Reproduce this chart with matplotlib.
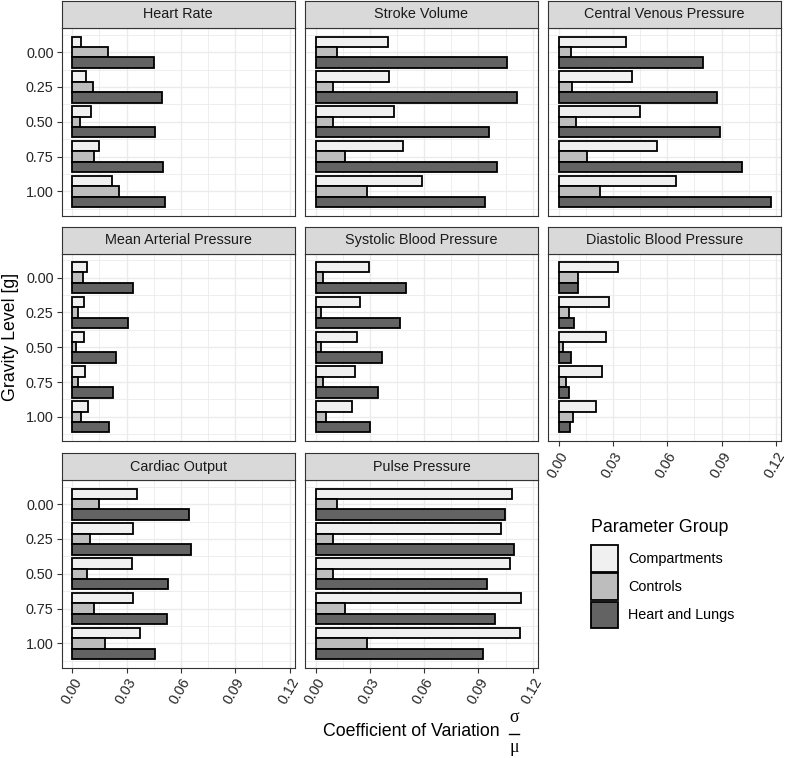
import matplotlib
matplotlib.use('Agg')
import matplotlib.pyplot as plt
from matplotlib.patches import Rectangle
from matplotlib.lines import Line2D
import numpy as np

W, H = 792, 758
plt.rcParams['font.family'] = ['Liberation Sans', 'DejaVu Sans']

# ---------------- data ----------------
parameters = ['Heart Rate', 'Stroke Volume', 'Central Venous Pressure',
              'Mean Arterial Pressure', 'Systolic Blood Pressure',
              'Diastolic Blood Pressure', 'Cardiac Output', 'Pulse Pressure']
gravity_levels = [0.00, 0.25, 0.50, 0.75, 1.00]
gravity_labels = ['0.00', '0.25', '0.50', '0.75', '1.00']
groups = ['Compartments', 'Controls', 'Heart and Lungs']
group_colors = ['#F0F0F0', '#BDBDBD', '#636363']
x_ticks = [0.00, 0.03, 0.06, 0.09, 0.12]
x_tick_labels = ['0.00', '0.03', '0.06', '0.09', '0.12']

cv_compartments = [
    [0.0050, 0.0077, 0.0106, 0.0150, 0.0220],
    [0.0400, 0.0407, 0.0433, 0.0481, 0.0589],
    [0.0374, 0.0406, 0.0451, 0.0543, 0.0651],
    [0.0079, 0.0062, 0.0064, 0.0068, 0.0084],
    [0.0297, 0.0246, 0.0228, 0.0217, 0.0204],
    [0.0328, 0.0281, 0.0262, 0.0240, 0.0204],
    [0.0358, 0.0336, 0.0328, 0.0334, 0.0376],
    [0.1088, 0.1022, 0.1072, 0.1136, 0.1130],
]
cv_controls = [
    [0.0195, 0.0116, 0.0042, 0.0121, 0.0257],
    [0.0121, 0.0099, 0.0095, 0.0165, 0.0284],
    [0.0070, 0.0075, 0.0095, 0.0156, 0.0229],
    [0.0059, 0.0033, 0.0022, 0.0031, 0.0048],
    [0.0044, 0.0031, 0.0028, 0.0042, 0.0059],
    [0.0105, 0.0059, 0.0024, 0.0042, 0.0079],
    [0.0145, 0.0097, 0.0081, 0.0119, 0.0180],
    [0.0121, 0.0095, 0.0094, 0.0161, 0.0283],
]
cv_heart_lungs = [
    [0.0453, 0.0497, 0.0455, 0.0501, 0.0510],
    [0.1057, 0.1112, 0.0958, 0.1002, 0.0939],
    [0.0796, 0.0877, 0.0892, 0.1015, 0.1171],
    [0.0334, 0.0306, 0.0239, 0.0224, 0.0200],
    [0.0499, 0.0468, 0.0365, 0.0343, 0.0299],
    [0.0108, 0.0086, 0.0066, 0.0059, 0.0061],
    [0.0646, 0.0653, 0.0530, 0.0523, 0.0457],
    [0.1046, 0.1097, 0.0950, 0.0993, 0.0927],
]
series = [cv_compartments, cv_controls, cv_heart_lungs]

# ---------------- layout ----------------
fig = plt.figure(figsize=(W / 100, H / 100), dpi=100)
fig.patch.set_facecolor('white')

def rect(x, y, w, h):
    return [x / W, 1 - (y + h) / H, w / W, h / H]

def fpt(x, y):
    return (x / W, 1 - y / H)

col_left = [61.7, 304.9, 548.0]
panel_w = 233.2
row_top = [28.0, 253.5, 480.0]
panel_h = 187.5
strip_h = 27.0

dark = '#333333'
label_c = '#262626'
grid_c = '#EBEBEB'
small_fs = 10.4
title_fs = 12.8

group_w = 0.9 * 0.25
bar_h = group_w / 3
ylo = min(gravity_levels) - group_w / 2
yhi = max(gravity_levels) + group_w / 2
yexp = 0.05 * (yhi - ylo)
xmax = max(max(max(v) for v in s) for s in series)
xlo, xhi = -0.05 * xmax, xmax * 1.05

y_minor = [g - 0.125 for g in gravity_levels] + [max(gravity_levels) + 0.125]
x_minor = [0.015, 0.045, 0.075, 0.105]

n = len(parameters)
ncol = 3
for i, name in enumerate(parameters):
    r, c = divmod(i, ncol)
    ax = fig.add_axes(rect(col_left[c], row_top[r], panel_w, panel_h))
    for k in range(3):
        ypos = np.array(gravity_levels) + (k - 1) * bar_h
        ax.barh(ypos, series[k][i], height=bar_h, color=group_colors[k],
                edgecolor='black', linewidth=1.3, zorder=3)
    ax.set_xlim(xlo, xhi)
    ax.set_ylim(yhi + yexp, ylo - yexp)
    ax.set_xticks(x_ticks)
    ax.set_xticks(x_minor, minor=True)
    ax.set_yticks(gravity_levels)
    ax.set_yticks(y_minor, minor=True)
    ax.set_axisbelow(True)
    ax.grid(which='major', color=grid_c, lw=1.0)
    ax.grid(which='minor', color=grid_c, lw=0.6)
    for sp in ax.spines.values():
        sp.set_color(dark)
        sp.set_linewidth(0.8)
    ax.tick_params(which='minor', length=0)
    ax.tick_params(which='major', length=3.4, width=0.8, color=dark,
                   labelcolor=label_c, labelsize=small_fs)
    show_y = (c == 0)
    show_x = (i + ncol >= n)
    if show_y:
        ax.set_yticklabels(gravity_labels)
        ax.tick_params(axis='y', pad=2.5)
    else:
        ax.tick_params(axis='y', left=False, labelleft=False)
    if show_x:
        ax.set_xticklabels(x_tick_labels, rotation=60, ha='right', va='top',
                           rotation_mode='anchor')
        ax.tick_params(axis='x', pad=2.5)
    else:
        ax.tick_params(axis='x', bottom=False, labelbottom=False)

    sax = fig.add_axes(rect(col_left[c], row_top[r] - strip_h, panel_w, strip_h))
    sax.set_facecolor('#D9D9D9')
    sax.set_xticks([])
    sax.set_yticks([])
    for sp in sax.spines.values():
        sp.set_color(dark)
        sp.set_linewidth(0.8)
    sax.text(0.5, 0.5, name, ha='center', va='center', fontsize=small_fs,
             color='#1A1A1A', transform=sax.transAxes)

# axis titles
fig.text(*fpt(11, 337), 'Gravity Level [g]', rotation=90, ha='center',
         va='center', fontsize=title_fs, color='black')
fig.text(*fpt(411, 731), 'Coefficient of Variation', ha='center', va='center',
         fontsize=title_fs, color='black')
serif = ['Liberation Serif', 'DejaVu Serif']
fig.text(*fpt(514, 717), 'σ', ha='center', va='center', fontsize=title_fs,
         family=serif, color='black')
fig.text(*fpt(514, 748), 'μ', ha='center', va='center', fontsize=title_fs,
         family=serif, color='black')
x0, y0 = fpt(508.5, 733.5)
x1, _ = fpt(518.5, 733.5)
fig.add_artist(Line2D([x0, x1], [y0, y0], color='black', lw=1.0,
                      transform=fig.transFigure))

# legend
fig.text(*fpt(590.7, 527), 'Parameter Group', ha='left', va='center',
         fontsize=title_fs, color='black')
key_top = [545.0, 573.3, 601.7]
for k, g in enumerate(groups):
    kx, ky = fpt(591.0, key_top[k] + 26.5)
    fig.add_artist(Rectangle((kx, ky), 26.5 / W, 26.5 / H,
                             facecolor=group_colors[k], edgecolor='black',
                             lw=1.3, transform=fig.transFigure))
    fig.text(*fpt(628.5, key_top[k] + 13.5), g, ha='left', va='center',
             fontsize=small_fs, color='black')

fig.savefig('out.png', dpi=100)
